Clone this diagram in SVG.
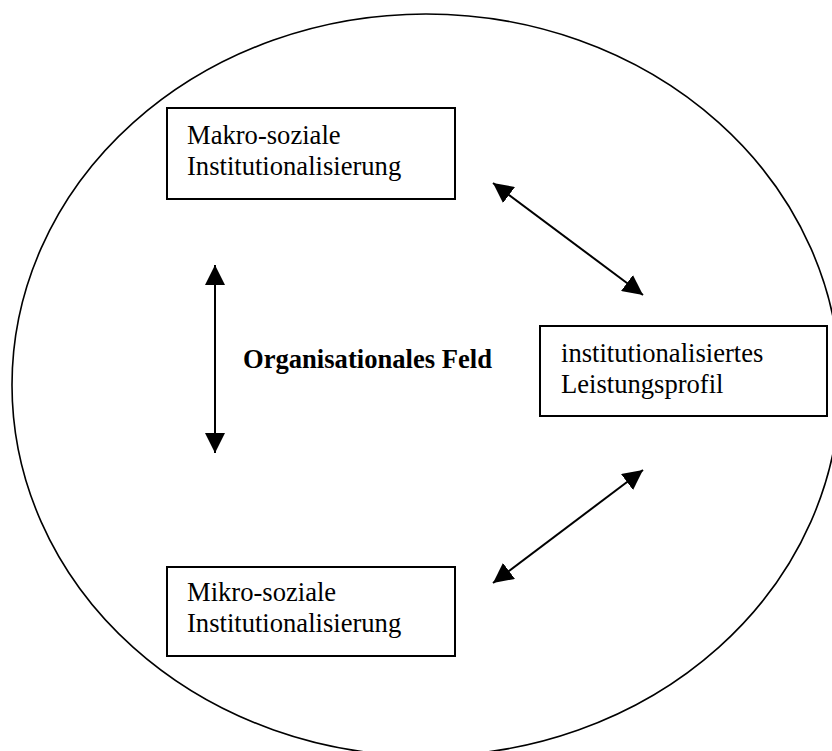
<svg xmlns="http://www.w3.org/2000/svg" width="832" height="751" viewBox="0 0 832 751">
<style>
.box{fill:#fff;stroke:#000;stroke-width:2}
.t{font-family:"Liberation Serif","Times New Roman",serif;font-size:26.6px;fill:#000}
.b{font-weight:bold}
.c{stroke:#000;stroke-width:2;fill:none}
</style>
<defs>
<marker id="ah" viewBox="0 0 20 20" refX="20" refY="10" markerWidth="20" markerHeight="20" markerUnits="userSpaceOnUse" orient="auto-start-reverse">
<path d="M0,0 L20,10 L0,20 z" fill="#000"/>
</marker>
</defs>
<rect width="832" height="751" fill="#fff"/>
<g id="field">
<ellipse cx="426" cy="385" rx="414" ry="371" fill="none" stroke="#000" stroke-width="1.6"/>
<text class="t b" x="243" y="368">Organisationales Feld</text>
</g>
<g id="makro">
<rect class="box" x="167" y="108" width="288" height="91"/>
<text class="t" x="187" y="144">Makro-soziale</text>
<text class="t" x="187" y="175">Institutionalisierung</text>
</g>
<g id="leistung">
<rect class="box" x="540" y="326" width="287" height="90"/>
<text class="t" x="561" y="362">institutionalisiertes</text>
<text class="t" x="561" y="393">Leistungsprofil</text>
</g>
<g id="mikro">
<rect class="box" x="167" y="567" width="288" height="89"/>
<text class="t" x="187" y="601">Mikro-soziale</text>
<text class="t" x="187" y="632">Institutionalisierung</text>
</g>
<g id="connectors">
<line class="c" x1="215" y1="265" x2="215" y2="453" marker-start="url(#ah)" marker-end="url(#ah)"/>
<line class="c" x1="493" y1="183" x2="643" y2="295" marker-start="url(#ah)" marker-end="url(#ah)"/>
<line class="c" x1="643" y1="470" x2="493" y2="583" marker-start="url(#ah)" marker-end="url(#ah)"/>
</g>
</svg>
